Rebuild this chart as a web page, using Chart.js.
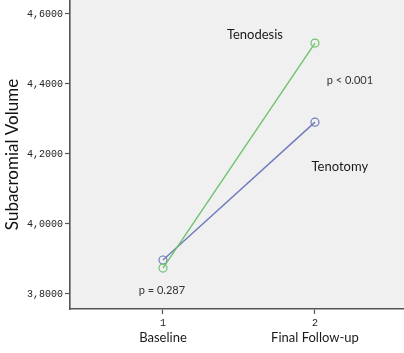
<!DOCTYPE html>
<html><head><meta charset="utf-8">
<script src="https://cdn.jsdelivr.net/npm/chart.js@4"></script>
<style>html,body{margin:0;padding:0;background:#fff}canvas{display:block}</style>
</head><body>
<canvas id="c" width="404" height="353"></canvas>
<script>
// ---- data ----
const categories = ['Baseline', 'Final Follow-up'];
const timeTicks = ['1', '2'];
const timeValues = [1, 2];
const tenodesis = [3.874, 4.517];
const tenotomy = [3.897, 4.291];
const yTickValues = [3.8, 4.0, 4.2, 4.4, 4.6];
const annotationTexts = ['Tenodesis', 'p < 0.001', 'Tenotomy', 'p = 0.287'];

// annotation anchors (data units) and styles
const annotationPlacement = [
  {x: 1.605, y: 4.54, font: '13px Lato', color: '#1a1a1a'},
  {x: 2.23, y: 4.411, font: '11px Lato', color: '#333'},
  {x: 2.164, y: 4.163, font: '13px Lato', color: '#1a1a1a'},
  {x: 0.993, y: 3.809, font: '11px Lato', color: '#333'}
];

const axisColor = '#555';

const bgPlugin = {
  id: 'bg',
  beforeDraw(chart) {
    const {ctx, chartArea: a} = chart;
    ctx.save();
    ctx.fillStyle = '#f0f0f0';
    ctx.fillRect(a.left, a.top, a.right - a.left, a.bottom - a.top);
    ctx.restore();
  }
};

const textPlugin = {
  id: 'texts',
  afterDatasetsDraw(chart) {
    const {ctx, scales} = chart;
    ctx.save();
    ctx.textAlign = 'center';
    ctx.textBaseline = 'middle';
    annotationTexts.forEach((t, i) => {
      const p = annotationPlacement[i];
      ctx.font = p.font;
      ctx.fillStyle = p.color;
      ctx.fillText(t, scales.x.getPixelForValue(p.x), scales.y.getPixelForValue(p.y));
    });
    ctx.restore();
  }
};

function setTicks(values) {
  return scale => { scale.ticks = values.map(v => ({value: v})); };
}

new Chart(document.getElementById('c'), {
  type: 'line',
  data: {
    datasets: [
      {
        label: 'Tenodesis',
        data: timeValues.map((x, i) => ({x, y: tenodesis[i]})),
        borderColor: 'rgb(108,196,108)',
        pointBorderColor: 'rgb(108,196,108)',
        pointBackgroundColor: 'rgba(0,0,0,0)',
        borderWidth: 1.4,
        pointRadius: 4,
        pointBorderWidth: 1.2,
        tension: 0
      },
      {
        label: 'Tenotomy',
        data: timeValues.map((x, i) => ({x, y: tenotomy[i]})),
        borderColor: 'rgb(112,122,190)',
        pointBorderColor: 'rgb(112,122,190)',
        pointBackgroundColor: 'rgba(0,0,0,0)',
        borderWidth: 1.4,
        pointRadius: 4,
        pointBorderWidth: 1.2,
        tension: 0
      }
    ]
  },
  options: {
    responsive: false,
    animation: false,
    layout: {padding: 0, autoPadding: false},
    plugins: {legend: {display: false}, tooltip: {enabled: false}},
    scales: {
      x: {
        type: 'linear',
        position: 'bottom',
        weight: 0,
        min: 0.388, max: 2.586,
        afterBuildTicks: setTicks(timeValues),
        afterFit(s) { s.height = 21; s.paddingLeft = 0; s.paddingRight = 0; },
        border: {display: true, color: axisColor, width: 1.6},
        grid: {display: true, drawOnChartArea: false, drawTicks: true, tickLength: 5, tickColor: axisColor, tickWidth: 1.2},
        ticks: {
          padding: 3, maxRotation: 0, autoSkip: false,
          font: {family: 'Liberation Mono', size: 10},
          color: '#222',
          callback: v => timeTicks[timeValues.indexOf(v)]
        }
      },
      x2: {
        type: 'linear',
        position: 'bottom',
        weight: 1,
        min: 0.388, max: 2.586,
        afterBuildTicks: setTicks(timeValues),
        afterFit(s) { s.height = 23; s.paddingLeft = 0; s.paddingRight = 0; },
        border: {display: false},
        grid: {display: false, drawTicks: false},
        ticks: {
          padding: 0, maxRotation: 0, autoSkip: false,
          font: {family: 'Lato', size: 13},
          color: '#1a1a1a',
          callback: v => categories[timeValues.indexOf(v)]
        }
      },
      y: {
        type: 'linear',
        min: 3.757, max: 4.64,
        afterBuildTicks: setTicks(yTickValues),
        afterFit(s) { s.width = 70; s.paddingTop = 0; s.paddingBottom = 0; },
        border: {display: true, color: axisColor, width: 1.6},
        grid: {display: true, drawOnChartArea: false, drawTicks: true, tickLength: 5, tickColor: axisColor, tickWidth: 1.2},
        ticks: {
          padding: 2, autoSkip: false,
          font: {family: 'Liberation Mono', size: 10},
          color: '#222',
          callback: v => v.toFixed(4).replace('.', ',')
        },
        title: {
          display: true,
          text: 'Subacromial Volume',
          font: {family: 'Lato', size: 17},
          color: '#111',
          padding: {top: 2, bottom: 0}
        }
      }
    }
  },
  plugins: [bgPlugin, textPlugin]
});
</script>
</body></html>
